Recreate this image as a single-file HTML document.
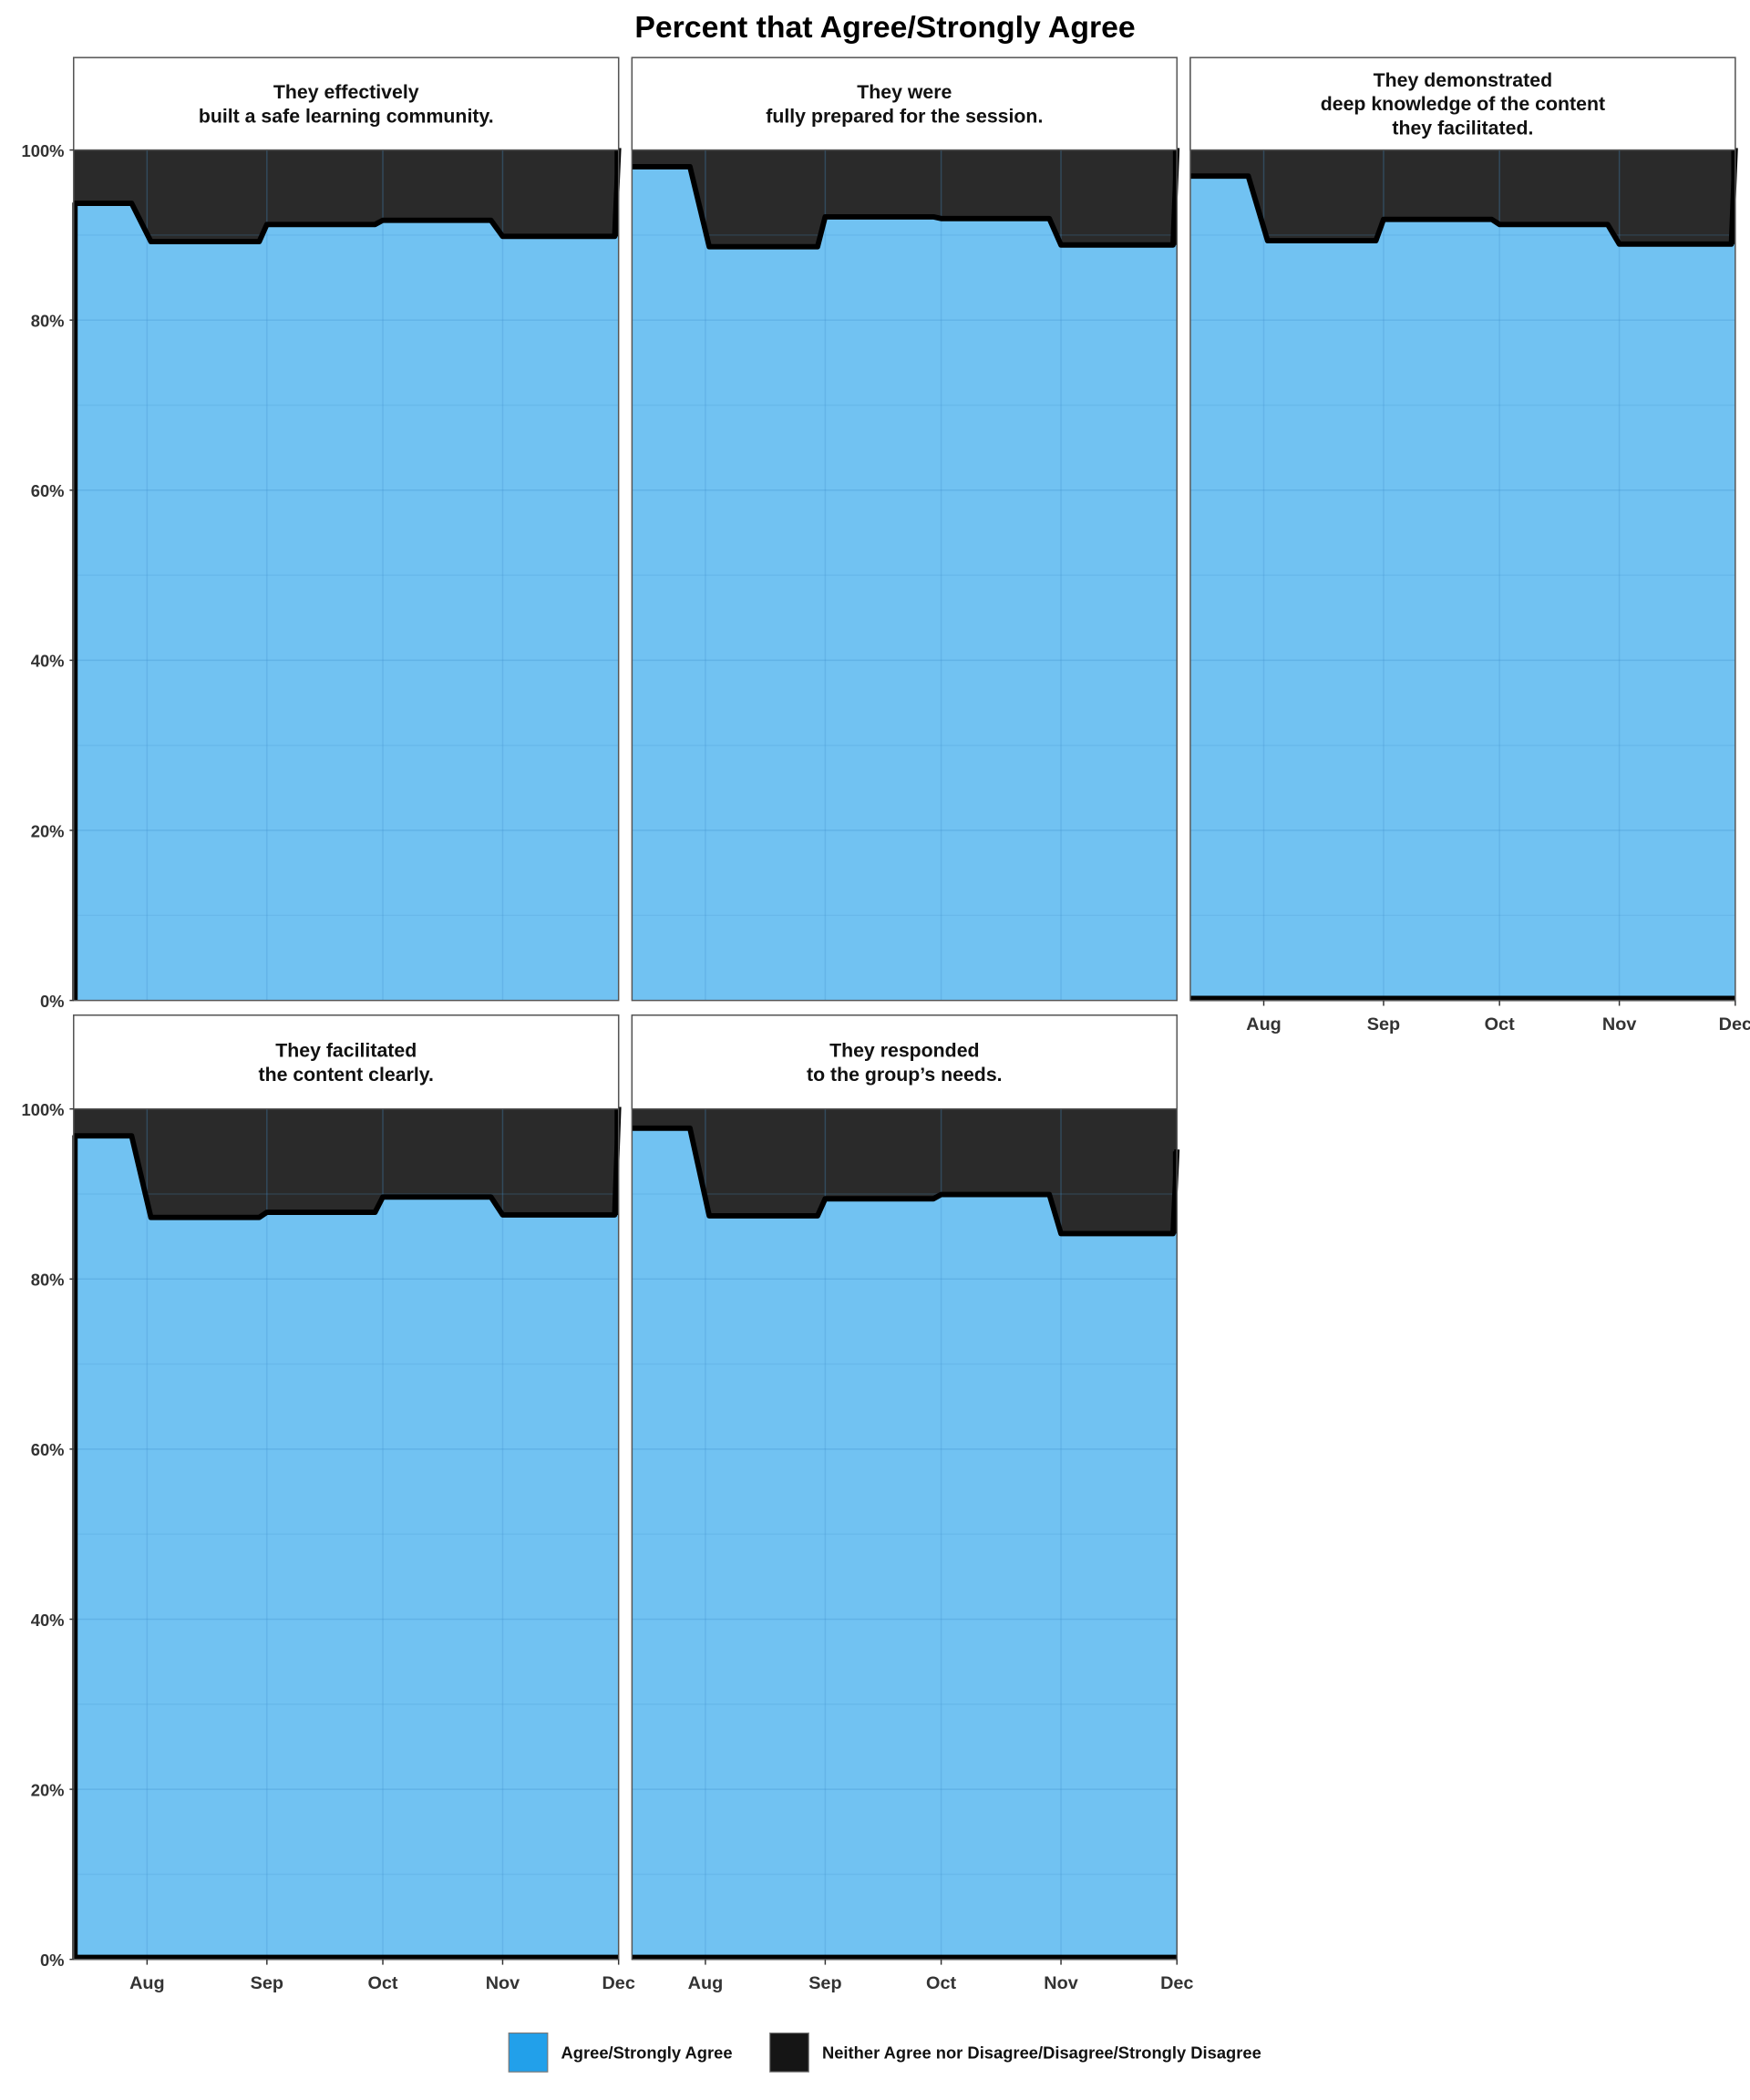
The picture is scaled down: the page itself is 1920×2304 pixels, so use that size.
<!DOCTYPE html>
<html><head><meta charset="utf-8">
<style>
html,body{margin:0;padding:0;background:#fff;}
svg{display:block;}
text{font-family:"Liberation Sans",sans-serif;font-weight:bold;}
</style></head>
<body>
<svg id="chart" width="1920" height="2304" viewBox="0 0 1307 1568" preserveAspectRatio="none" xmlns="http://www.w3.org/2000/svg">
<text x="661" y="28" text-anchor="middle" font-size="23" fill="#000">Percent that Agree/Strongly Agree</text>
<g id="panels"></g>
<g>
<rect x="380" y="1518" width="29" height="29" fill="#22a0ea" stroke="#777" stroke-width="0.8"/>
<text x="419" y="1537" font-size="12.5" fill="#111">Agree/Strongly Agree</text>
<rect x="575" y="1518" width="29" height="29" fill="#151515" stroke="#777" stroke-width="0.8"/>
<text x="614" y="1537" font-size="12.5" fill="#111">Neither Agree nor Disagree/Disagree/Strongly Disagree</text>
</g>
</svg>
<script>
// days relative to Aug 1
const days = [-19, -4, 1, 29, 31, 59, 61, 89, 92, 121, 122];
const series1 = [93.5, 93.5, 89, 89, 91, 91, 91.5, 91.5, 89.6, 89.6, 100];
const series2 = [97.8, 97.8, 88.4, 88.4, 91.9, 91.9, 91.7, 91.7, 88.6, 88.6, 100];
const series3 = [96.7, 96.7, 89.1, 89.1, 91.6, 91.6, 91.0, 91.0, 88.7, 88.7, 100];
const series4 = [96.6, 96.6, 87.0, 87.0, 87.6, 87.6, 89.4, 89.4, 87.3, 87.3, 100];
const series5 = [97.5, 97.5, 87.2, 87.2, 89.2, 89.2, 89.7, 89.7, 85.1, 85.1, 95];
const monthLabels = ["Aug", "Sep", "Oct", "Nov", "Dec"];
const monthDays = [0, 31, 61, 92, 122];
const yTickValues = [0, 20, 40, 60, 80, 100];
const panelTitles = [
 ["They effectively","built a safe learning community."],
 ["They were","fully prepared for the session."],
 ["They demonstrated","deep knowledge of the content","they facilitated."],
 ["They facilitated","the content clearly."],
 ["They responded","to the group\u2019s needs."]
];
const allSeries = [series1, series2, series3, series4, series5];
const layout = [
 {x:55, top:43, y100:112, y0:747, yAxis:true, xAxis:false, leftEdge:true, bottom:false},
 {x:472, top:43, y100:112, y0:747, yAxis:false, xAxis:false, leftEdge:false, bottom:false},
 {x:889, top:43, y100:112, y0:747, yAxis:false, xAxis:true, leftEdge:false, bottom:true},
 {x:55, top:758, y100:828, y0:1463, yAxis:true, xAxis:true, leftEdge:true, bottom:true},
 {x:472, top:758, y100:828, y0:1463, yAxis:false, xAxis:true, leftEdge:false, bottom:true}
];
const W = 407;
const NS = "http://www.w3.org/2000/svg";
const root = document.getElementById('panels');
function mk(tag, attrs, parent){const e=document.createElementNS(NS,tag);for(const k in attrs)e.setAttribute(k,attrs[k]);parent.appendChild(e);return e;}
const dMin=-19, dMax=122;
layout.forEach((L,i)=>{
  const g = mk('g',{},root);
  
  
  const xs = d => L.x + (d-dMin)/(dMax-dMin)*W;
  const ys = v => L.y0 - v/100*(L.y0-L.y100);
  const bg = mk('rect',{x:L.x,y:L.y100,width:W,height:L.y0-L.y100,fill:'#2a2a2a'},g);
  
  
  const data = allSeries[i];
  let pts = days.map((d,j)=>xs(d).toFixed(1)+','+ys(data[j]).toFixed(1));
  const area = mk('polygon',{points:xs(dMin)+','+L.y0+' '+pts.join(' ')+' '+xs(dMax)+','+L.y0,fill:'#71c2f2'},g);
  
  
  for(let v=10;v<100;v+=10){
    const gl=mk('line',{x1:L.x,x2:L.x+W,y1:ys(v),y2:ys(v),stroke:'rgba(70,150,210,'+(v%20==0?0.35:0.2)+')','stroke-width':1},g);
    
    
  }
  monthDays.forEach(d=>{
    const gl=mk('line',{x1:xs(d),x2:xs(d),y1:L.y100,y2:L.y0,stroke:'rgba(70,150,210,0.3)','stroke-width':1},g);
    
    
  });
  const line = mk('polyline',{points:pts.join(' '),fill:'none',stroke:'#000','stroke-width':4,'stroke-linejoin':'round',transform:'translate(0,-1.5)'},g);
  
  
  if(L.leftEdge){
    const le=mk('line',{x1:L.x+1,x2:L.x+1,y1:L.y0,y2:ys(data[0])-2,stroke:'#000','stroke-width':4},g);
    
    
  }
  if(L.bottom){
    const be=mk('line',{x1:L.x,x2:L.x+W,y1:L.y0-1.5,y2:L.y0-1.5,stroke:'#000','stroke-width':4},g);
    
    
  }
  const re=mk('line',{x1:xs(dMax)-1.5,x2:xs(dMax)-1.5,y1:ys(data[data.length-2])-1.5,y2:ys(data[data.length-1]),stroke:'#000','stroke-width':3},g);
  
  
  const border=mk('rect',{x:L.x,y:L.top,width:W,height:L.y0-L.top,fill:'none',stroke:'#555','stroke-width':1},g);
  
  
  const strip=mk('rect',{x:L.x,y:L.top,width:W,height:L.y100-L.top,fill:'#fff',stroke:'#555','stroke-width':1},g);
  
  
  const lines = panelTitles[i];
  const lh=18;
  const cy=(L.top+L.y100)/2 - (lines.length-1)*lh/2 + 5;
  lines.forEach((t,k)=>{
    const tx=mk('text',{x:L.x+W/2,y:cy+k*lh,'text-anchor':'middle','font-size':14.5,fill:'#111'},g);
    tx.textContent=t;
    
    
  });
  if(L.yAxis){
    yTickValues.forEach(v=>{
      const t=mk('text',{x:L.x-7,y:ys(v)+5,'text-anchor':'end','font-size':12.5,fill:'#333'},g);
      t.textContent=v+'%';
      
      
      const tk=mk('line',{x1:L.x-3,x2:L.x,y1:ys(v),y2:ys(v),stroke:'#333','stroke-width':1},g);
      
      
    });
  }
  if(L.xAxis){
    monthDays.forEach((d,k)=>{
      const t=mk('text',{x:xs(d),y:L.y0+22,'text-anchor':'middle','font-size':13.5,fill:'#333'},g);
      t.textContent=monthLabels[k];
      
      
      const tk=mk('line',{x1:xs(d),x2:xs(d),y1:L.y0,y2:L.y0+4,stroke:'#333','stroke-width':1},g);
      
      
    });
  }
});
</script>
</body></html>
